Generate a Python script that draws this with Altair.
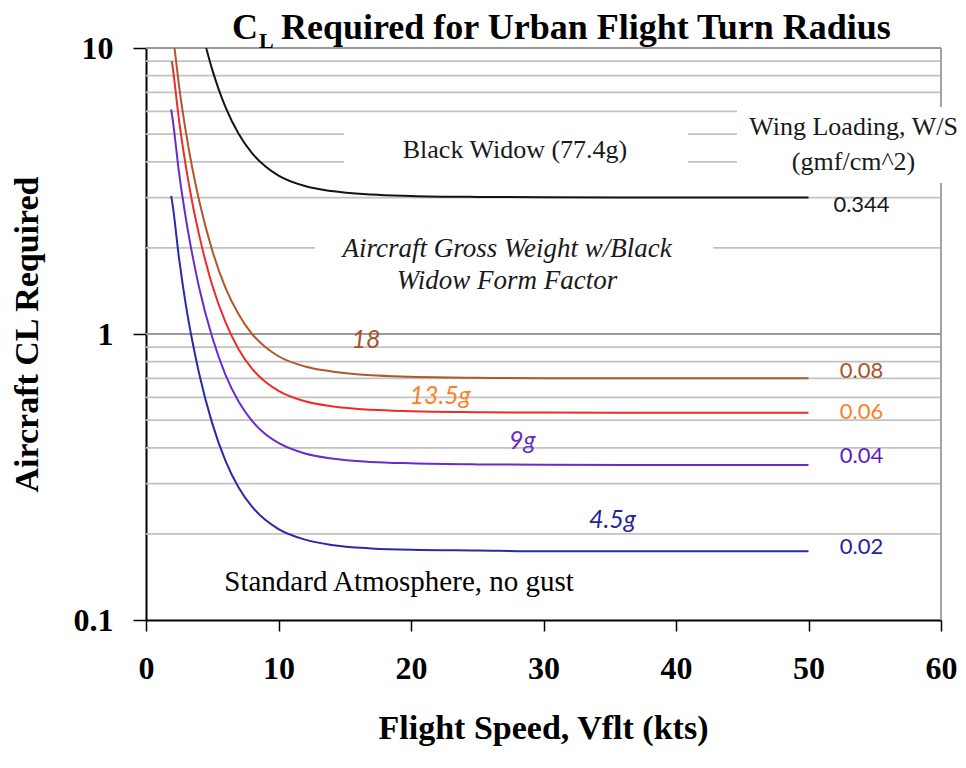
import altair as alt
import pandas as pd

# ---- data ----
speed_black = [4.54, 5, 5.5, 6, 7, 8, 9, 10, 12, 14, 17, 20, 25, 30, 40, 50]
cl_black = [10, 8.4, 7.14, 6.21, 5.0, 4.29, 3.86, 3.58, 3.29, 3.16, 3.075, 3.04, 3.015, 3.006, 3.0, 3.0]

speed_brown = [2.15, 2.5, 3, 3.5, 4, 5, 6, 7, 8, 9, 10, 12, 14, 17, 20, 25, 30, 40, 50]
cl_brown = [10, 7.34, 5.12, 3.79, 2.94, 1.96, 1.45, 1.17, 1.0, 0.9, 0.836, 0.77, 0.74, 0.717, 0.709, 0.703, 0.70, 0.70, 0.70]

speed_red = [1.95, 2, 2.5, 3, 3.5, 4, 5, 6, 7, 8, 9, 10, 12, 14, 17, 20, 25, 30, 40, 50]
cl_red = [9.0, 8.67, 5.56, 3.88, 2.87, 2.23, 1.48, 1.10, 0.883, 0.757, 0.681, 0.633, 0.582, 0.559, 0.543, 0.537, 0.533, 0.531, 0.53, 0.53]

speed_low = [1.9, 2, 2.5, 3, 3.5, 4, 5, 6, 7, 8, 9, 10, 12, 14, 17, 20, 25, 30, 40, 50]
cl_purple = [6.1, 5.69, 3.65, 2.55, 1.89, 1.46, 0.974, 0.72, 0.58, 0.497, 0.447, 0.416, 0.382, 0.367, 0.357, 0.353, 0.350, 0.349, 0.348, 0.348]
cl_blue = [3.04, 2.85, 1.83, 1.27, 0.943, 0.731, 0.487, 0.36, 0.29, 0.249, 0.224, 0.208, 0.191, 0.183, 0.178, 0.176, 0.175, 0.174, 0.174, 0.174]

series_names = ["Black Widow (77.4g)", "18g", "13.5g", "9g", "4.5g"]
series_colors = ["#141414", "#b0582a", "#ee2b2b", "#6a2ad0", "#2a2aa8"]

x_ticks = [0, 10, 20, 30, 40, 50, 60]
y_ticks = [0.1, 1, 10]
grid_minor = [0.2, 0.3, 0.4, 0.5, 0.6, 0.7, 0.8, 0.9, 2, 3, 4, 5, 6, 7, 8, 9]
grid_major = [1, 10]

# white boxes behind text blocks (hide gridlines), in data units
box_v1 = [14.94, 44.6, 12.75]
box_v2 = [40.9, 60.0, 42.8]
box_cl1 = [3.3, 3.37, 1.31]
box_cl2 = [5.6, 6.22, 2.31]

# right plot border segments
border_cl1 = [0.1, 6.22]
border_cl2 = [3.37, 10]

# annotations
serif_texts = ["Black Widow (77.4g)", "Wing Loading, W/S", "(gmf/cm^2)"]
serif_v = [27.85, 53.4, 53.4]
serif_cl = [4.40, 5.29, 3.99]

italic_texts = ["Aircraft Gross Weight w/Black", "Widow Form Factor"]
italic_v = [27.25, 27.25]
italic_cl = [1.98, 1.532]

weight_texts = ["18", "13.5g", "9g", "4.5g"]
weight_v = [16.6, 22.2, 28.4, 35.2]
weight_cl = [0.953, 0.607, 0.4226, 0.2237]
weight_colors = ["#a8532a", "#ff7f27", "#6a2bc8", "#2424a0"]

ws_texts = ["0.344", "0.08", "0.06", "0.04", "0.02"]
ws_v = [54.0, 54.0, 54.0, 54.0, 54.0]
ws_cl = [2.825, 0.742, 0.534, 0.3745, 0.180]
ws_colors = ["#1a1a1a", "#a8532a", "#ff7f27", "#5b1fb8", "#2424a0"]

note_text = ["Standard Atmosphere, no gust"]
note_v = [19.1]
note_cl = [0.1358]

# ---- tables ----
rows = []
for name, vs, cs in [
    (series_names[0], speed_black, cl_black),
    (series_names[1], speed_brown, cl_brown),
    (series_names[2], speed_red, cl_red),
    (series_names[3], speed_low, cl_purple),
    (series_names[4], speed_low, cl_blue),
]:
    for v, c in zip(vs, cs):
        rows.append({"series": name, "V": v, "CL": c})
curves = pd.DataFrame(rows)

grid_minor_df = pd.DataFrame({"CL": grid_minor, "V": 0, "V2": 60})
grid_major_df = pd.DataFrame({"CL": grid_major, "V": 0, "V2": 60})
boxes = pd.DataFrame({"V": box_v1, "V2": box_v2, "CL": box_cl1, "CL2": box_cl2})
borders = pd.DataFrame({"V": [60, 60], "CL": border_cl1, "CL2": border_cl2})

serif_df = pd.DataFrame({"t": serif_texts, "V": serif_v, "CL": serif_cl})
italic_df = pd.DataFrame({"t": italic_texts, "V": italic_v, "CL": italic_cl})
weight_df = pd.DataFrame({"t": weight_texts, "V": weight_v, "CL": weight_cl, "c": weight_colors})
ws_df = pd.DataFrame({"t": ws_texts, "V": ws_v, "CL": ws_cl, "c": ws_colors})
note_df = pd.DataFrame({"t": note_text, "V": note_v, "CL": note_cl})
one = pd.DataFrame({"k": [0]})

W, H = 795, 572
SERIF = "Liberation Serif"
SANS = "Lato"

xs = alt.Scale(domain=[0, 60], nice=False, zero=False)
ys = alt.Scale(type="log", domain=[0.1, 10], nice=False)

x_axis = alt.Axis(
    values=x_ticks, title="Flight Speed, Vflt (kts)", grid=False,
    domainColor="#000000", domainWidth=2, tickColor="#000000", tickWidth=1.5, tickSize=11,
    labelFont=SERIF, labelFontSize=32, labelFontWeight="bold", labelColor="#000000",
    labelBaseline="middle", labelPadding=37, labelFlush=False, labelOverlap=False,
    titleFont=SERIF, titleFontSize=34, titleFontWeight="bold", titleColor="#000000",
    titleX=397, titleY=108, titleBaseline="middle", titleAlign="center",
)
y_axis = alt.Axis(
    values=y_ticks, format="~g", title="Aircraft CL Required", grid=False,
    domainColor="#000000", domainWidth=2, tickColor="#000000", tickWidth=1.5, tickSize=13,
    labelFont=SERIF, labelFontSize=32, labelFontWeight="bold", labelColor="#000000",
    labelBaseline="middle", labelPadding=20, labelFlush=False, labelOverlap=False,
    titleFont=SERIF, titleFontSize=34, titleFontWeight="bold", titleColor="#000000",
    titleX=-119, titleY=286, titleBaseline="middle", titleAlign="center", titleAngle=-90,
)

X = lambda f="V": alt.X(f"{f}:Q", scale=xs, axis=x_axis)
Y = lambda f="CL": alt.Y(f"{f}:Q", scale=ys, axis=y_axis)

grid_minor_layer = alt.Chart(grid_minor_df).mark_rule(color="#c2c2c2", strokeWidth=1.7).encode(
    x=X(), x2="V2:Q", y=Y())
grid_major_layer = alt.Chart(grid_major_df).mark_rule(color="#9a9a9a", strokeWidth=1.8).encode(
    x=X(), x2="V2:Q", y=Y())
box_layer = alt.Chart(boxes).mark_rect(fill="white").encode(
    x=X(), x2="V2:Q", y=Y(), y2="CL2:Q")
border_layer = alt.Chart(borders).mark_rule(color="#9a9a9a", strokeWidth=1.8).encode(
    x=X(), y=Y(), y2="CL2:Q")

lines = alt.Chart(curves).mark_line(strokeWidth=2, clip=True, interpolate="monotone").encode(
    x=X(), y=Y(),
    color=alt.Color("series:N", scale=alt.Scale(domain=series_names, range=series_colors), legend=None),
)

serif_layer = alt.Chart(serif_df).mark_text(font=SERIF, fontSize=26, color="#1a1a1a", baseline="middle", align="center").encode(
    x=X(), y=Y(), text="t:N")
italic_layer = alt.Chart(italic_df).mark_text(font=SERIF, fontSize=27, fontStyle="italic", color="#1a1a1a", baseline="middle", align="center").encode(
    x=X(), y=Y(), text="t:N")
weight_layer = alt.Chart(weight_df).mark_text(font=SANS, fontSize=25, fontStyle="italic", baseline="middle", align="center").encode(
    x=X(), y=Y(), text="t:N", color=alt.Color("c:N", scale=None))
ws_layer = alt.Chart(ws_df).mark_text(font=SANS, fontSize=22, baseline="middle", align="center").encode(
    x=X(), y=Y(), text="t:N", color=alt.Color("c:N", scale=None))
note_layer = alt.Chart(note_df).mark_text(font=SERIF, fontSize=29, color="#000000", baseline="middle", align="center").encode(
    x=X(), y=Y(), text="t:N")

title_c = alt.Chart(one).mark_text(text="C", font=SERIF, fontSize=36, fontWeight="bold", color="#000000",
                                   align="left", baseline="alphabetic").encode(x=alt.value(86), y=alt.value(-9))
title_l = alt.Chart(one).mark_text(text="L", font=SERIF, fontSize=22, fontWeight="bold", color="#000000",
                                   align="left", baseline="alphabetic").encode(x=alt.value(113), y=alt.value(0))
title_rest = alt.Chart(one).mark_text(text="Required for Urban Flight Turn Radius", font=SERIF, fontSize=36,
                                      fontWeight="bold", color="#000000", align="left",
                                      baseline="alphabetic").encode(x=alt.value(135), y=alt.value(-9))

chart = alt.layer(
    grid_minor_layer, grid_major_layer, box_layer, border_layer, lines,
    serif_layer, italic_layer, weight_layer, ws_layer, note_layer,
    title_c, title_l, title_rest,
).properties(
    width=W, height=H,
    autosize=alt.AutoSizeParams(type="none"),
    padding={"left": 138, "top": 40, "right": 17, "bottom": 140},
    background="white",
).configure_view(strokeWidth=0)

chart.save("out.html", embed_options={"renderer": "svg", "actions": False})
